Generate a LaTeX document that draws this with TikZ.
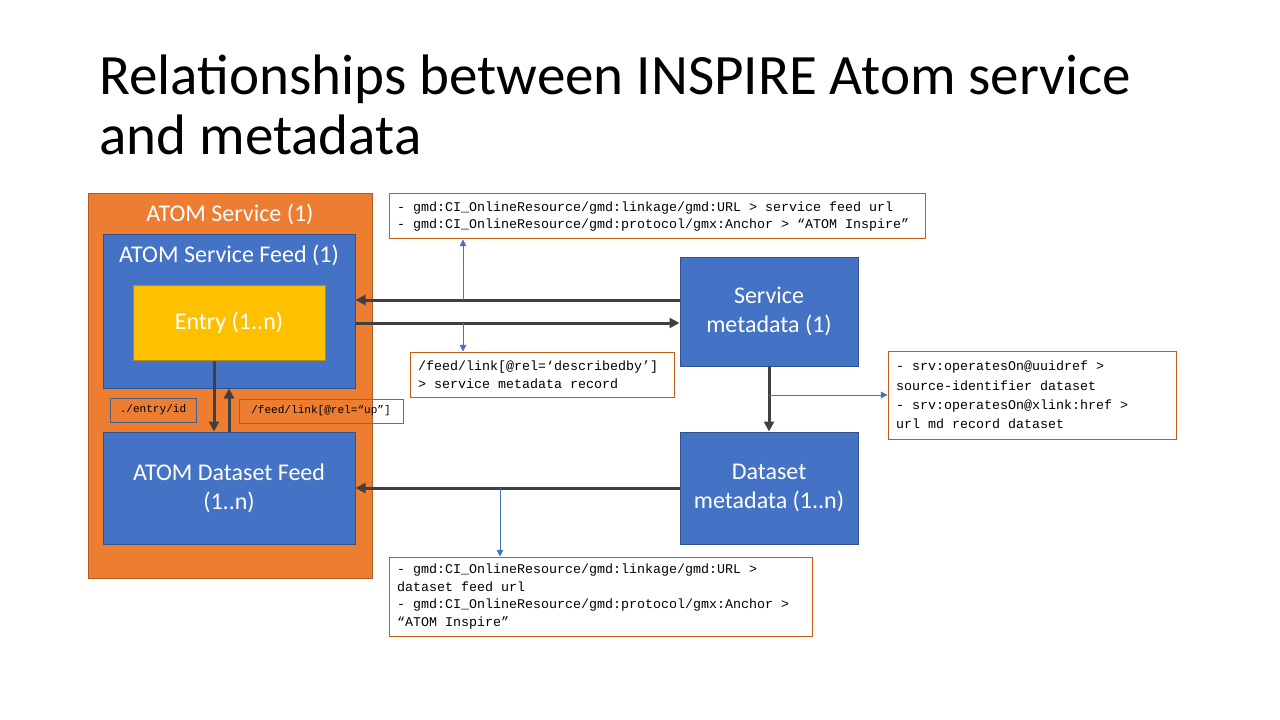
\documentclass[tikz,border=0pt]{standalone}
\usepackage{fontspec}
\setmainfont{Carlito}
\setmonofont{Liberation Mono}
\usetikzlibrary{arrows.meta}
\definecolor{svcorange}{HTML}{ED7D31}
\definecolor{svcedge}{HTML}{AE5A21}
\definecolor{feedblue}{HTML}{4472C4}
\definecolor{feededge}{HTML}{2F528F}
\definecolor{entryyellow}{HTML}{FFC000}
\definecolor{entryedge}{HTML}{BC8C00}
\definecolor{memoedge}{HTML}{C55A11}
\definecolor{darkline}{HTML}{404040}
% monospaced note fonts
\newcommand{\notefont}[2]{\ttfamily\fontsize{#1}{#2}\selectfont}
\newcommand{\fullspaces}{\spaceskip 0.6em\relax\xspaceskip 0.6em\relax}
\tikzset{
  box/.style={draw, line width=0.75pt, inner sep=0pt, align=center, text=white,
    font=\fontsize{18}{21.6}\selectfont},
  orangebox/.style={box, fill=svcorange, draw=svcedge},
  bluebox/.style={box, fill=feedblue, draw=feededge},
  yellowbox/.style={box, fill=entryyellow, draw=entryedge},
  boxtitle/.style={text=white, font=\fontsize{18}{21.6}\selectfont, inner sep=0pt},
  memo/.style={draw=memoedge, line width=0.75pt, fill=white, align=flush left,
    inner xsep=6pt, inner ysep=0pt, font=\notefont{10}{13.3},
    execute at begin node=\fullspaces},
  tag/.style={line width=0.75pt, inner sep=0pt, font=\notefont{8.3}{10}},
  dark/.style={draw=darkline, line width=2.25pt,
    -{Triangle[length=7.5pt, width=7.5pt]}},
  pointer/.style={draw=feedblue, line width=0.75pt,
    -{Triangle[length=5pt, width=5pt]}},
}
\begin{document}
\begin{tikzpicture}[x=0.75pt, y=-0.75pt]
  \useasboundingbox (0,0) rectangle (1280,720);
  \fill[white] (0,0) rectangle (1280,720);

  % slide title (anchored at the baseline of its last line)
  \node[anchor=base west, inner sep=0pt, align=left,
        font=\fontsize{42.8}{45}\selectfont] (title) at (99,155)
       {Relationships between INSPIRE Atom service\\and metadata};

  % ATOM service with its feeds
  \node[orangebox, minimum width=213pt, minimum height=288pt] (svc) at (230,386) {};
  \node[boxtitle] (svctitle) at (230,214) {ATOM Service (1)};
  \node[bluebox, minimum width=189pt, minimum height=114.75pt] (feed) at (229,311.5) {};
  \node[boxtitle] (feedtitle) at (229,255) {ATOM Service Feed (1)};
  \node[yellowbox, minimum width=144pt, minimum height=56.25pt] (entry) at (229,322.5) {Entry (1..n)};
  \node[bluebox, minimum width=189pt, minimum height=84pt] (dsfeed) at (229,488)
       {ATOM Dataset Feed\\(1..n)};

  % link tags between entry and dataset feed
  \node[tag, draw=feededge!70!gray, minimum width=64.5pt, minimum height=18pt] (idtag) at (153,410) {./entry/id};
  \node[tag, draw=feedblue, minimum width=123pt, minimum height=18pt] (uptag) at (321,411) {/feed/link[@rel=“up”]};

  % metadata records
  \node[bluebox, minimum width=133.5pt, minimum height=81.75pt] (smeta) at (769,311.5)
       {Service\\metadata (1)};
  \node[bluebox, minimum width=133.5pt, minimum height=84pt] (dmeta) at (769,488)
       {Dataset\\metadata (1..n)};

  % element notes
  \node[memo, minimum width=402pt, minimum height=33.75pt, text width=390pt,
        font=\notefont{10}{12.75}] (topmemo) at (657,216.5)
       {- gmd:CI\_OnlineResource/gmd:linkage/gmd:URL > service feed url\\
        - gmd:CI\_OnlineResource/gmd:protocol/gmx:Anchor > “ATOM Inspire”};
  \node[memo, minimum width=198pt, minimum height=33.75pt, text width=186pt] (descmemo) at (542,374.5)
       {/feed/link[@rel=‘describedby’]\\
        > service metadata record};
  \node[memo, minimum width=216pt, minimum height=66pt, text width=204pt,
        font=\notefont{10}{14.4}] (rightmemo) at (1032,395)
       {- srv:operatesOn@uuidref >\\
        source-identifier dataset\\
        - srv:operatesOn@xlink:href >\\
        url md record dataset};
  \node[memo, minimum width=317.25pt, minimum height=59.25pt, text width=305pt] (botmemo) at (600.5,596.5)
       {- gmd:CI\_OnlineResource/gmd:linkage/gmd:URL >\\
        dataset feed url\\
        - gmd:CI\_OnlineResource/gmd:protocol/gmx:Anchor >\\
        “ATOM Inspire”};

  % connector levels
  \coordinate (yA) at (0,300);
  \coordinate (yB) at (0,323);
  \coordinate (xA) at (214,0);
  \coordinate (xB) at (229,0);

  % main relations
  \draw[dark] (smeta.west |- yA) -- (feed.east |- yA);
  \draw[dark] (feed.east |- yB) -- (smeta.west |- yB);
  \draw[dark] (smeta.south) -- (dmeta.north);
  \draw[dark] (dmeta.west) -- (dsfeed.east);
  \draw[dark] (entry.south -| xA) -- (dsfeed.north -| xA);
  \draw[dark] (dsfeed.north -| xB) -- (feed.south -| xB);

  % pointers to the notes
  \coordinate (pA) at (463,300);
  \coordinate (pB) at (463,323);
  \coordinate (pC) at (769,395);
  \coordinate (pD) at (500,488);
  \draw[pointer] (pA) -- (topmemo.south -| pA);
  \draw[pointer] (pB) -- (descmemo.north -| pB);
  \draw[pointer] (pC) -- (rightmemo.west |- pC);
  \draw[pointer] (pD) -- (botmemo.north -| pD);
\end{tikzpicture}
\end{document}
